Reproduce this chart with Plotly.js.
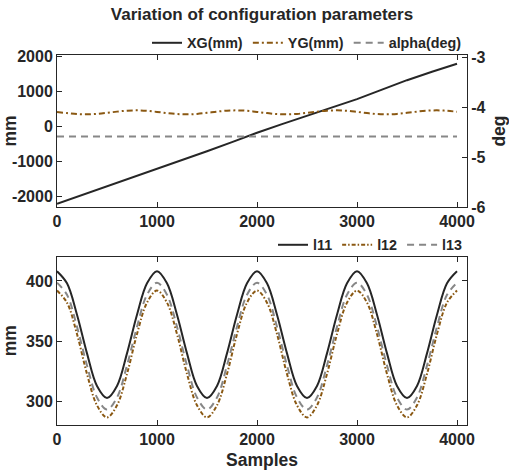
<!DOCTYPE html>
<html>
<head>
<meta charset="utf-8">
<script src="https://cdn.plot.ly/plotly-3.0.1.min.js"></script>
<style>html,body{margin:0;padding:0;background:#fff}#chart{width:509px;height:473px}</style>
</head>
<body>
<div id="chart"></div>
<script>
// ---- data ----
const samplesCoarse = [0,250,500,750,1000,1250,1500,1750,2000,2250,2500,2750,3000,3250,3500,3750,4000];
const xgValues = [-2200,-1950,-1710,-1460,-1220,-960,-700,-440,-170,75,315,555,790,1060,1330,1570,1800];
const alphaValues = [-4.59,-4.59,-4.59,-4.59,-4.59,-4.59,-4.59,-4.59,-4.59,-4.59,-4.59,-4.59,-4.59,-4.59,-4.59,-4.59,-4.59];

const samplesFine = [0,100,200,300,400,500,600,700,800,900,1000,1100,1200,1300,1400,1500,1600,1700,1800,1900,2000,2100,2200,2300,2400,2500,2600,2700,2800,2900,3000,3100,3200,3300,3400,3500,3600,3700,3800,3900,4000];
const ygValues = [420,390,363,354,367,397,432,459,468,455,
                  424,390,363,354,367,397,432,459,468,455,
                  424,390,363,354,367,397,432,459,468,455,
                  424,390,363,354,367,397,432,459,468,455,428];
const l11Values = [408,398,372,340,313,303,313,340,372,398,
                   408,398,372,340,313,303,313,340,372,398,
                   408,398,372,340,313,303,313,340,372,398,
                   408,398,372,340,313,303,313,340,372,398,408];
const l12Values = [392,382,356,323,297,287,297,323,356,382,
                   392,382,356,323,297,287,297,323,356,382,
                   392,382,356,323,297,287,297,323,356,382,
                   392,382,356,323,297,287,297,323,356,382,392];
const l13Values = [398.5,388.5,362,330,303.5,293.5,303.5,330,362,388.5,
                   398.5,388.5,362,330,303.5,293.5,303.5,330,362,388.5,
                   398.5,388.5,362,330,303.5,293.5,303.5,330,362,388.5,
                   398.5,388.5,362,330,303.5,293.5,303.5,330,362,388.5,398.5];

const xTicks = [0,1000,2000,3000,4000];
const yTopTicks = [-2000,-1000,0,1000,2000];
const yDegTicks = [-6,-5,-4,-3];
const yBotTicks = [300,350,400];

// ---- styling ----
const FONT = "Liberation Sans, Arial, sans-serif";
const AX = '#262626';
const BROWN = 'rgb(138,88,18)';
const GRAY = 'rgb(135,135,135)';

const traces = [
  {x: samplesCoarse, y: xgValues, name: 'XG(mm)', mode: 'lines', xaxis: 'x', yaxis: 'y',
   line: {color: AX, width: 2}, legend: 'legend'},
  {x: samplesFine, y: ygValues, name: 'YG(mm)', mode: 'lines', xaxis: 'x', yaxis: 'y',
   line: {color: BROWN, width: 2, dash: '6px,3px,2px,3px', shape: 'spline'}, legend: 'legend'},
  {x: samplesCoarse, y: alphaValues, name: 'alpha(deg)', mode: 'lines', xaxis: 'x', yaxis: 'y2',
   line: {color: GRAY, width: 2, dash: '7px,5px'}, legend: 'legend'},
  {x: samplesFine, y: l11Values, name: 'l11', mode: 'lines', xaxis: 'x2', yaxis: 'y3',
   line: {color: AX, width: 2, shape: 'spline'}, legend: 'legend2'},
  {x: samplesFine, y: l12Values, name: 'l12', mode: 'lines', xaxis: 'x2', yaxis: 'y3',
   line: {color: BROWN, width: 2, dash: '4px,2px,1.5px,2px', shape: 'spline'}, legend: 'legend2'},
  {x: samplesFine, y: l13Values, name: 'l13', mode: 'lines', xaxis: 'x2', yaxis: 'y3',
   line: {color: GRAY, width: 2, dash: '7px,5px', shape: 'spline'}, legend: 'legend2'}
];

const tickFont = {family: FONT, size: 16, color: AX};
const labFont = {family: FONT, size: 17.5, color: AX};
const baseAxis = {showgrid: false, zeroline: false, showline: true, linecolor: AX, linewidth: 1,
  ticks: 'inside', ticklen: 5, tickcolor: AX, tickwidth: 1, tickfont: tickFont};

const layout = {
  width: 509, height: 473,
  margin: {l: 57, r: 42, t: 55, b: 48},
  paper_bgcolor: '#fff', plot_bgcolor: '#fff',
  font: {family: FONT, color: AX},
  title: {text: '<b>Variation of configuration parameters</b>', font: {family: FONT, size: 17, color: AX},
          x: 0.5, xref: 'paper', y: 1 - 14/473, yref: 'container', yanchor: 'middle', xanchor: 'center'},
  showlegend: true,
  xaxis: Object.assign({}, baseAxis, {domain: [0, 1], range: [0, 4100], tickvals: xTicks,
     ticktext: xTicks.map(v => '<b>' + v + '</b>'), anchor: 'y', mirror: 'ticks'}),
  yaxis: Object.assign({}, baseAxis, {domain: [0.589, 1], range: [-2294, 2049], tickvals: yTopTicks,
     ticktext: yTopTicks.map(v => '<b>' + v + '</b>'), anchor: 'x', mirror: false,
     title: {text: '<b>mm</b>', font: labFont, standoff: 6}}),
  yaxis2: Object.assign({}, baseAxis, {overlaying: 'y', side: 'right', anchor: 'x', range: [-6, -2.96],
     tickvals: yDegTicks, ticktext: yDegTicks.map(v => '<b>' + v + '</b>'),
     title: {text: '<b>deg</b>', font: labFont, standoff: 8}}),
  xaxis2: Object.assign({}, baseAxis, {domain: [0, 1], range: [0, 4100], tickvals: xTicks,
     ticktext: xTicks.map(v => '<b>' + v + '</b>'), anchor: 'y3', mirror: 'ticks',
     title: {text: '<b>Samples</b>', font: labFont, standoff: 6}}),
  yaxis3: Object.assign({}, baseAxis, {domain: [0, 0.455], range: [280.7, 420.1], tickvals: yBotTicks,
     ticktext: yBotTicks.map(v => '<b>' + v + '</b>'), anchor: 'x2', mirror: 'ticks',
     title: {text: '<b>mm</b>', font: labFont, standoff: 6}}),
  legend: {orientation: 'h', x: 1, xanchor: 'right', y: (425-43)/370, yanchor: 'middle',
     font: {family: FONT, size: 14.3, color: AX, weight: 'bold'}, bgcolor: 'rgba(0,0,0,0)',
     itemwidth: 30, tracegroupgap: 0},
  legend2: {orientation: 'h', x: 1, xanchor: 'right', y: (425-245)/370, yanchor: 'middle',
     font: {family: FONT, size: 14.3, color: AX, weight: 'bold'}, bgcolor: 'rgba(0,0,0,0)',
     itemwidth: 30, tracegroupgap: 0}
};

Plotly.newPlot('chart', traces, layout, {staticPlot: true, displayModeBar: false});
</script>
</body>
</html>
